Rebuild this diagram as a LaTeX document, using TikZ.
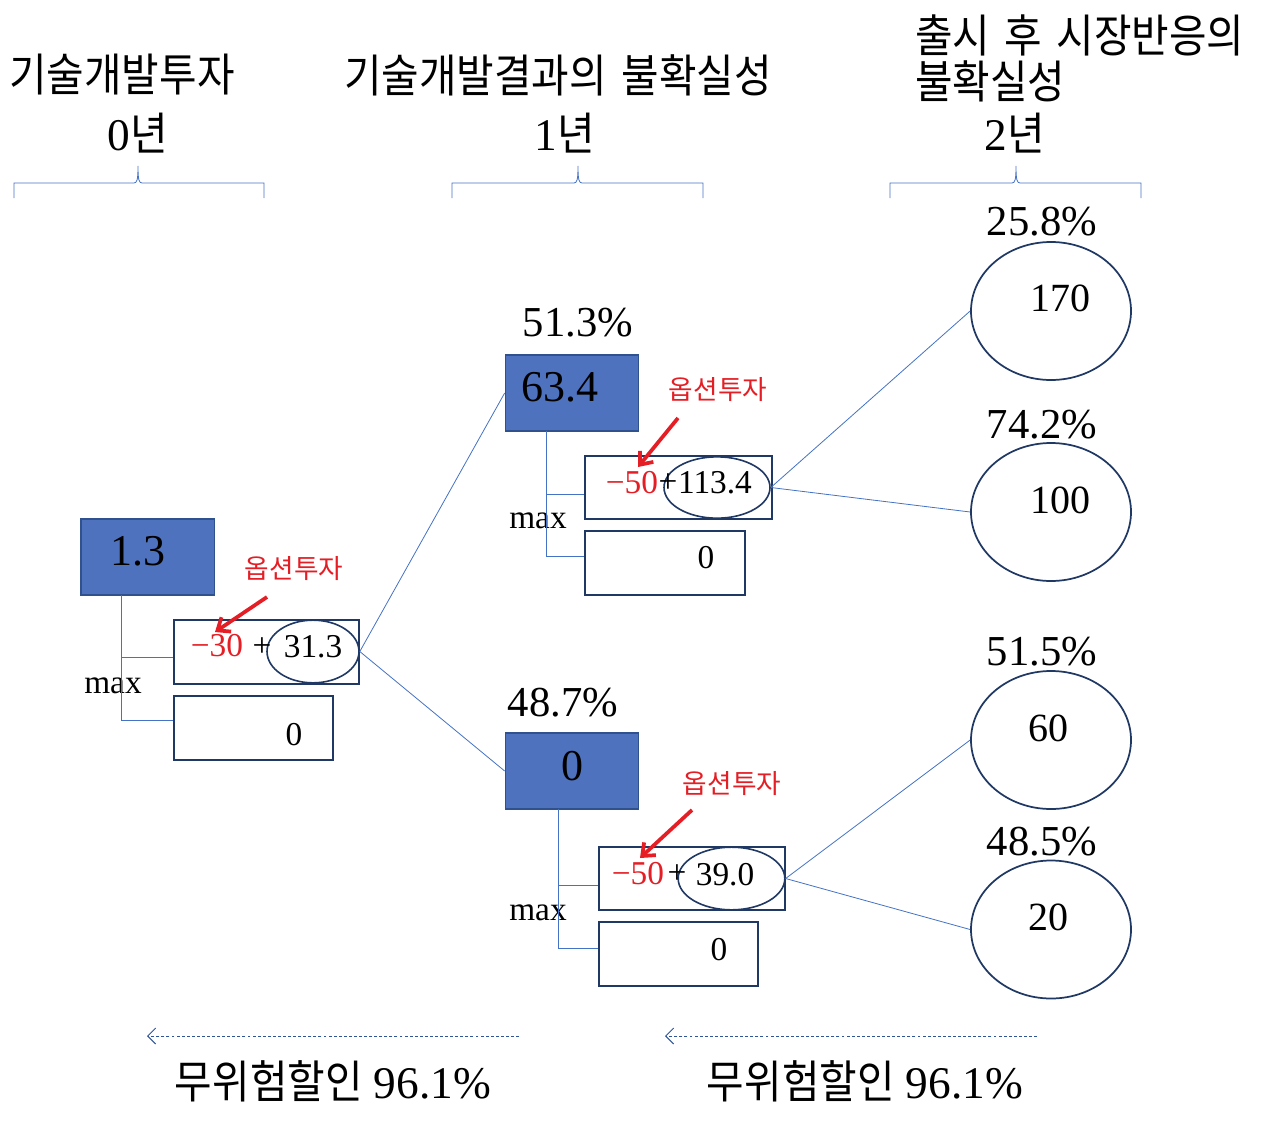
\documentclass[tikz,border=0pt]{standalone}
\usepackage{fontspec}
\setmainfont{Liberation Serif}
\newfontfamily\kr[FakeStretch=0.9]{Noto Sans CJK KR}
\newfontfamily\krs{Noto Sans CJK KR}
\newcommand\K[1]{{\kr #1}}
\usetikzlibrary{arrows.meta,shapes.geometric}
\definecolor{boxblue}{RGB}{79,114,190}
\definecolor{boxedge}{RGB}{47,82,143}
\definecolor{navy}{RGB}{32,56,100}
\definecolor{linkblue}{RGB}{68,114,196}
\definecolor{dashblue}{RGB}{47,85,151}
\definecolor{optred}{RGB}{228,30,36}
\begin{document}
\begin{tikzpicture}[x=0.75pt,y=-0.75pt,
 bluebox/.style={rectangle,draw=boxedge,line width=1pt,fill=boxblue,minimum width=100pt,minimum height=57pt,inner sep=0pt},
 valbox/.style={rectangle,draw=navy,line width=1.3pt,fill=white,minimum height=47.5pt,inner sep=0pt},
 valell/.style={ellipse,draw=navy,line width=1.2pt,inner sep=0pt},
 outc/.style={ellipse,draw=navy,line width=1.3pt,fill=white,minimum width=120pt,minimum height=103.5pt,inner sep=0pt},
 link/.style={draw=linkblue,line width=0.6pt},
 brace/.style={draw=linkblue,line width=0.6pt},
 txt/.style={inner sep=0pt,font=\fontsize{25}{28}\selectfont},
 big/.style={inner sep=0pt,font=\fontsize{33}{38}\selectfont},
 pct/.style={inner sep=0pt,font=\fontsize{32}{36}\selectfont},
 outv/.style={inner sep=0pt,font=\fontsize{30}{34}\selectfont},
 head/.style={inner sep=0pt,font=\fontsize{34}{40}\selectfont},
 redtxt/.style={inner sep=0pt,text=optred,font=\fontsize{25}{28}\selectfont},
 optlbl/.style={inner sep=0pt,text=optred,font=\fontsize{20}{23}\selectfont\krs},
 optarrow/.style={draw=optred,line width=2.8pt,-{Straight Barb[length=8pt,width=13pt]}},
 disc/.style={draw=dashblue,line width=0.7pt,dash pattern=on 2.2pt off 1.6pt,-{Straight Barb[length=6pt,width=12pt]}},
]
\useasboundingbox (0,0) rectangle (1280,1142);

% headers
\node[head] (h0) at (122,75) {\K{기술개발투자}};
\node[head] (y0) at (138,133) {0\K{년}};
\node[head] (h1) at (558,75) {\K{기술개발결과의\hspace{4pt} 불확실성}};
\node[head] (y1) at (565,133) {1\K{년}};
\node[head,anchor=west] (h2a) at (915,35) {\K{출시\hspace{4pt} 후\hspace{4pt} 시장반응의}};
\node[head,anchor=west] (h2b) at (915,81) {\K{불확실성}};
\node[head] (y2) at (1015,133) {2\K{년}};

% braces
\draw[brace] (14,198) |- (134,183) .. controls (137,183) and (138,180) .. (138,166) .. controls (138,180) and (139,183) .. (142,183) -| (264,198);
\draw[brace] (452,198) |- (574,183) .. controls (577,183) and (578,180) .. (578,166) .. controls (578,180) and (579,183) .. (582,183) -| (703,198);
\draw[brace] (890,198) |- (1012,183) .. controls (1015,183) and (1016,180) .. (1016,166) .. controls (1016,180) and (1017,183) .. (1020,183) -| (1141,198);

% year 0
\node[bluebox] (r0) at (147.5,557) {};
\node[big] (t0) at (138,551) {1.3};
\node[valbox,minimum width=139pt] (b0a) at (266.5,652) {};
\node[valbox,minimum width=119.5pt] (b0b) at (253.5,728) {};
\node[valell,minimum width=69pt,minimum height=47pt] (e0) at (313,651.5) {};
\node[redtxt] (m0) at (217,646) {−30};
\node[txt] (p0) at (262,647) {+};
\node[txt] (v0) at (313,647) {31.3};
\node[txt] (z0) at (294,735) {0};
\node[txt] (x0) at (113,686) {max};
\node[optlbl] (o0) at (294,569) {옵션투자};
\coordinate (o0s) at (267,597);
\coordinate (o0e) at (215,632);
\draw[optarrow] (o0s) -- (o0e);
\coordinate (k0) at (121,595);
\draw[link] (k0) |- ([yshift=-3.75pt]b0a.west);
\draw[link] (k0) |- ([yshift=6pt]b0b.west);

% year 1 upper
\node[bluebox] (r1) at (572,393) {};
\node[big] (t1) at (560,387) {63.4};
\node[pct] (q1) at (578,323) {51.3\%};
\node[valbox,minimum width=140pt] (b1a) at (678.5,487.5) {};
\node[valbox,minimum width=120pt,minimum height=48pt] (b1b) at (665,563) {};
\node[valell,minimum width=79.5pt,minimum height=46pt] (e1) at (717,487.5) {};
\node[redtxt] (m1) at (632,483) {−50};
\node[txt] (p1) at (668,483) {+};
\node[txt] (v1) at (715,483) {113.4};
\node[txt] (z1) at (706,558) {0};
\node[txt] (x1) at (538,521) {max};
\node[optlbl] (o1) at (718,390) {옵션투자};
\coordinate (o1s) at (678,418);
\coordinate (o1e) at (638,467);
\draw[optarrow] (o1s) -- (o1e);
\coordinate (k1) at (546,431);
\draw[link] (k1) |- ([yshift=-4.9pt]b1a.west);
\draw[link] (k1) |- ([yshift=5.25pt]b1b.west);

% year 1 lower
\node[bluebox] (r2) at (572,771) {};
\node[big] (t2) at (572,766) {0};
\node[pct] (q2) at (563,703) {48.7\%};
\node[valbox,minimum width=139.5pt] (b2a) at (692,878.5) {};
\node[valbox,minimum width=119.5pt,minimum height=48pt] (b2b) at (678.5,954) {};
\node[valell,minimum width=80pt,minimum height=47pt] (e2) at (731.5,878.5) {};
\node[redtxt] (m2) at (638,874) {−50};
\node[txt] (p2) at (677,874) {+};
\node[txt] (v2) at (725,875) {39.0};
\node[txt] (z2) at (719,950) {0};
\node[txt] (x2) at (538,913) {max};
\node[optlbl] (o2) at (732,784) {옵션투자};
\coordinate (o2s) at (692,810);
\coordinate (o2e) at (640,858);
\draw[optarrow] (o2s) -- (o2e);
\coordinate (k2) at (558,809);
\draw[link] (k2) |- ([yshift=-4.9pt]b2a.west);
\draw[link] (k2) |- ([yshift=4.5pt]b2b.west);

% year 2 outcomes
\node[outc] (c1) at (1051,311) {};
\node[outv] (u1) at (1060,298) {170};
\node[pct] (s1) at (1042,222) {25.8\%};
\node[outc] (c2) at (1051,512) {};
\node[outv] (u2) at (1060,500) {100};
\node[pct] (s2) at (1042,425) {74.2\%};
\node[outc] (c3) at (1051,740) {};
\node[outv] (u3) at (1048,728) {60};
\node[pct] (s3) at (1042,652) {51.5\%};
\node[outc] (c4) at (1051,929.5) {};
\node[outv] (u4) at (1048,917) {20};
\node[pct] (s4) at (1042,842) {48.5\%};

% tree links
\draw[link] (e0.east) -- (r1.west);
\draw[link] (e0.east) -- (r2.west);
\draw[link] (e1.east) -- (c1.west);
\draw[link] (e1.east) -- (c2.west);
\draw[link] (e2.east) -- (c3.west);
\draw[link] (e2.east) -- (c4.west);

% discounting
\coordinate (d1s) at (519,1036);
\coordinate (d1e) at (147,1036);
\draw[disc] (d1s) -- (d1e);
\coordinate (d2s) at (1037,1036);
\coordinate (d2e) at (665,1036);
\draw[disc] (d2s) -- (d2e);
\node[head] (w1) at (333,1081) {\K{무위험할인} 96.1\%};
\node[head] (w2) at (865,1081) {\K{무위험할인} 96.1\%};
\end{tikzpicture}
\end{document}
